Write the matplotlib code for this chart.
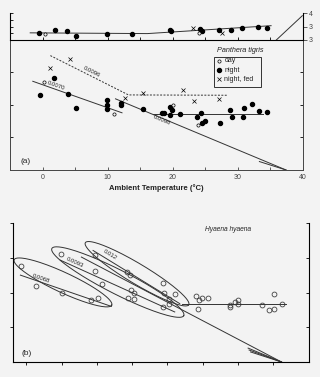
import numpy as np
import matplotlib.pyplot as plt

plt.rcParams['font.family'] = ['Liberation Sans', 'DejaVu Sans']

# strip at the top: lower edge of the panel above
top_night_t = [-0.5, 1.9, 3.8, 5.2, 9.9, 13.7, 19.5, 19.8, 24.2, 24.5, 27.1, 29.0, 30.6, 33.1, 34.4]
top_night_v = [1.06, 1.45, 1.26, 0.65, 0.95, 0.95, 1.45, 1.26, 1.56, 1.26, 1.51, 1.45, 1.71, 2.0, 1.76]
top_day_t = [0.35, 24.0]
top_day_v = [0.95, 1.06]
top_fed_t = [23.1, 27.5]
top_fed_v = [1.71, 1.06]
top_fit_t = [-1.9, 16.1, 35.1]
top_fit_v = [1.06, 0.95, 2.12]
top_edge_t = [35.9, 39.9]
top_edge_v = [0.0, 3.6]
top_right_ticks = [0, 2, 4]
top_right_labels = ['3', '3', '4']

# (a) Panthera tigris
a_night_t = [-0.46, 1.73, 3.93, 5.15, 9.95, 9.95, 9.95, 12.0, 12.1, 15.5, 18.3, 18.6, 19.6, 19.6,
             19.9, 21.1, 23.7, 24.4, 24.5, 25.0, 27.2, 28.8, 29.1, 30.8, 30.9, 32.1, 33.2, 34.5]
a_night_v = [2.31, 2.84, 2.33, 1.91, 2.15, 2.0, 1.88, 2.05, 1.99, 1.87, 1.76, 1.76, 1.69, 1.95,
             1.85, 1.72, 1.62, 1.76, 1.46, 1.50, 1.44, 1.85, 1.62, 1.63, 1.91, 2.03, 1.83, 1.77]
a_day_t = [0.26, 10.9, 20.0, 23.9]
a_day_v = [2.70, 1.72, 1.99, 1.38]
a_fed_t = [1.1, 4.2, 12.6, 15.4, 21.5, 23.3, 27.1]
a_fed_v = [3.15, 3.41, 2.23, 2.36, 2.47, 2.12, 2.17]

a_cold_t, a_cold_v = [-1.5, 12.2], [2.73, 1.76]
a_warm_t, a_warm_v = [11.2, 37.4], [2.19, 0.0]
a_warm2_t, a_warm2_v = [33.3, 37.4], [0.26, 0.0]
a_tnz_t, a_tnz_v = [17.0, 33.9], [1.72, 1.72]
a_fedfit_t, a_fedfit_v = [1.2, 13.2, 28.3], [3.52, 2.31, 2.30]

legend_labels = ['day', 'night', 'night, fed']

# (b) Hyaena hyaena
b_t = [-0.8, 1.32, 4.87, 5.1, 9.2, 9.7, 9.7, 10.2, 10.7, 14.3, 14.7, 14.4, 14.9, 15.2, 15.2,
       19.4, 19.5, 19.4, 20.2, 20.3, 21.1, 24.1, 24.5, 24.3, 24.9, 25.7, 28.9, 28.9, 29.6,
       30.0, 30.0, 33.4, 34.4, 35.1, 35.1, 36.2]
b_v = [2.77, 2.20, 3.10, 2.0, 1.78, 3.08, 2.63, 1.84, 2.24, 2.59, 2.51, 1.84, 2.06, 2.0, 1.80,
       2.26, 2.0, 1.59, 1.67, 1.81, 1.96, 1.89, 1.79, 1.52, 1.84, 1.84, 1.58, 1.64, 1.73,
       1.77, 1.67, 1.64, 1.49, 1.53, 1.97, 1.67]

b_fit1_t, b_fit1_v = [-0.85, 12.06], [2.50, 1.60]
b_fit2_t, b_fit2_v = [4.82, 21.05], [2.93, 1.44]
b_fit3_t, b_fit3_v = [9.46, 21.76], [3.21, 1.68]
b_long_t, b_long_v = [7.8, 36.2], [3.02, 0.0]
b_tnz_t, b_tnz_v = [22.1, 36.8], [1.67, 1.67]
b_conv_t = [31.46, 31.6, 31.8]
b_conv_v = [0.40, 0.345, 0.29]

# group outlines around the three cold-side fits: centre (t, v)
b_group_t = [5.19, 12.97, 15.7]
b_group_v = [2.29, 2.30, 2.54]

bg = '#f3f3f3'
ink = '#333333'
lw = 0.7

fig = plt.figure(figsize=(3.2, 3.77), dpi=100, facecolor=bg)
ax0 = fig.add_axes([10/320, 1 - 40/377, 293/320, 27/377])
axa = fig.add_axes([10/320, 1 - 170/377, 293/320, 130/377])
axb = fig.add_axes([13/320, 1 - 362/377, 296/320, 139/377])

for ax in (ax0, axa, axb):
    ax.set_facecolor(bg)
    for s in ax.spines.values():
        s.set_linewidth(0.7)
        s.set_color('#444444')

# ---- top strip ----
ax0.plot(top_fit_t, top_fit_v, color=ink, lw=lw)
ax0.plot(top_edge_t, top_edge_v, color=ink, lw=lw)
ax0.plot(top_night_t, top_night_v, 'o', ms=2.9, color='black')
ax0.plot(top_day_t, top_day_v, 'o', ms=2.3, mfc=bg, mec='black', mew=0.5)
ax0.plot(top_fed_t, top_fed_v, 'x', ms=2.8, color='black', mew=0.5)
ax0.set_xlim(-5, 40)
ax0.set_ylim(0, 4)
ax0.spines['top'].set_visible(False)
ax0.set_xticks(np.arange(0, 36, 5))
ax0.set_yticks([1, 2, 3, 4])
ax0.tick_params(axis='x', direction='in', length=2, width=0.6, labelbottom=False)
ax0.tick_params(axis='y', direction='in', length=2, width=0.6, labelleft=False)
ax0r = ax0.twinx()
ax0r.set_ylim(0, 4)
ax0r.spines['top'].set_visible(False)
ax0r.set_yticks(top_right_ticks, top_right_labels)
ax0r.tick_params(axis='y', direction='out', length=3, width=0.6, labelsize=5, pad=1, colors='#444444')

# ---- panel (a) ----
axa.plot(a_cold_t, a_cold_v, color=ink, lw=lw)
axa.plot(a_warm_t, a_warm_v, color=ink, lw=lw)
axa.plot(a_warm2_t, a_warm2_v, color=ink, lw=lw)
axa.plot(a_tnz_t, a_tnz_v, color=ink, lw=lw)
axa.plot(a_fedfit_t, a_fedfit_v, color=ink, lw=lw, ls=(0, (2, 1.5)))
axa.plot(a_night_t, a_night_v, 'o', ms=2.9, color='black')
axa.plot(a_day_t, a_day_v, 'o', ms=2.3, mfc=bg, mec='black', mew=0.5)
axa.plot(a_fed_t, a_fed_v, 'x', ms=2.8, color='black', mew=0.5)
axa.set_xlim(-5, 40)
axa.set_ylim(0, 4)
axa.set_xticks(np.arange(0, 41, 10))
axa.set_xticks(np.arange(5, 40, 10), minor=True)
axa.set_yticks([1, 2, 3])
axa.tick_params(axis='x', which='both', direction='in', length=2, width=0.6,
                labelsize=5, colors='#444444', pad=3)
axa.tick_params(axis='y', direction='in', length=2, width=0.6, right=True,
                labelleft=False)
axa.set_xlabel('Ambient Temperature (°C)', fontsize=5.5, fontweight='bold', labelpad=2,
               color='#222222')
axa.text(0.035, 0.05, '(a)', transform=axa.transAxes, fontsize=6, color='#222222')

# legend drawn by hand to sit like the original box
box = plt.Rectangle((0.696, 0.641), 0.16, 0.226, transform=axa.transAxes,
                    facecolor=bg, edgecolor='#333333', lw=0.7)
axa.add_patch(box)
key_y = [0.841, 0.769, 0.697]
key_styles = [dict(marker='o', ms=2.3, mfc=bg, mec='black', mew=0.5),
              dict(marker='o', ms=2.9, color='black'),
              dict(marker='x', ms=2.8, color='black', mew=0.5)]
for y, lab, st in zip(key_y, legend_labels, key_styles):
    axa.plot([0.713], [y], ls='', transform=axa.transAxes, clip_on=False, **st)
    axa.text(0.732, y, lab, transform=axa.transAxes, fontsize=5, va='center',
             color='#222222')
axa.text(0.785, 0.918, 'Panthera tigris', transform=axa.transAxes, fontsize=5.2,
         style='italic', ha='center', va='center', color='#222222')


def slope_label(ax, t, v, line_t, line_v, txt):
    p = ax.transData.transform(list(zip(line_t[:2], line_v[:2])))
    ang = np.degrees(np.arctan2(p[1][1] - p[0][1], p[1][0] - p[0][0]))
    ax.text(t, v, txt, rotation=ang, fontsize=4.3, ha='center', va='center',
            rotation_mode='anchor', color='#222222')


slope_label(axa, 2.0, 2.58, a_cold_t, a_cold_v, '0.0070')
slope_label(axa, 7.6, 3.02, a_fedfit_t, a_fedfit_v, '0.0096')
slope_label(axa, 18.3, 1.52, a_warm_t, a_warm_v, '0.0098')

# ---- panel (b) ----
axb.set_xlim(-1.9, 40.1)
axb.set_ylim(0, 4)
axb.spines['top'].set_visible(False)
axb.set_xticks(np.arange(0, 36, 5))
axb.set_yticks([1, 2, 3, 4])
axb.tick_params(axis='x', direction='out', length=2.5, width=0.6, labelbottom=False)
axb.tick_params(axis='y', direction='out', length=2.5, width=0.6, labelleft=False)
axbr = axb.twinx()
axbr.set_ylim(0, 4)
axbr.spines['top'].set_visible(False)
axbr.set_yticks([1, 2, 3, 4])
axbr.tick_params(axis='y', direction='in', length=2.5, width=0.6, labelright=False)

for lt, lv in [(b_fit1_t, b_fit1_v), (b_fit2_t, b_fit2_v), (b_fit3_t, b_fit3_v),
               (b_long_t, b_long_v), (b_tnz_t, b_tnz_v)]:
    axb.plot(lt, lv, color=ink, lw=lw)
for ct, cv in zip(b_conv_t, b_conv_v):
    axb.plot([ct, b_long_t[-1]], [cv, b_long_v[-1]], color=ink, lw=lw)

# outline shape in pixels: tilt (deg, downwards), length, width
shapes = [(25, 107.6, 20), (27, 148, 24), (31, 120.6, 20)]
tt = np.linspace(0, 2 * np.pi, 200)
for gt, gv, (ang, L, w) in zip(b_group_t, b_group_v, shapes):
    c = axb.transData.transform([(gt, gv)])[0]
    a = np.radians(-ang)
    u = np.array([np.cos(a), np.sin(a)])
    n = np.array([-u[1], u[0]])
    pts = c + np.outer(np.cos(tt) * L / 2, u) + np.outer(np.sin(tt) * w / 2, n)
    dd = axb.transData.inverted().transform(pts)
    axb.plot(dd[:, 0], dd[:, 1], color=ink, lw=lw)

axb.plot(b_t, b_v, 'o', ms=3.5, mfc='none', mec='#333333', mew=0.55)

slope_label(axb, 2.13, 2.41, b_fit1_t, b_fit1_v, '0.0068')
slope_label(axb, 6.86, 2.87, b_fit2_t, b_fit2_v, '0.0093')
slope_label(axb, 11.83, 3.09, b_fit3_t, b_fit3_v, '0.012')
axb.text(0.725, 0.955, 'Hyaena hyaena', transform=axb.transAxes, fontsize=4.8,
         style='italic', ha='center', va='center', color='#222222')
axb.text(0.03, 0.05, '(b)', transform=axb.transAxes, fontsize=6, color='#222222')

fig.savefig('out.png', dpi=100, facecolor=bg)
